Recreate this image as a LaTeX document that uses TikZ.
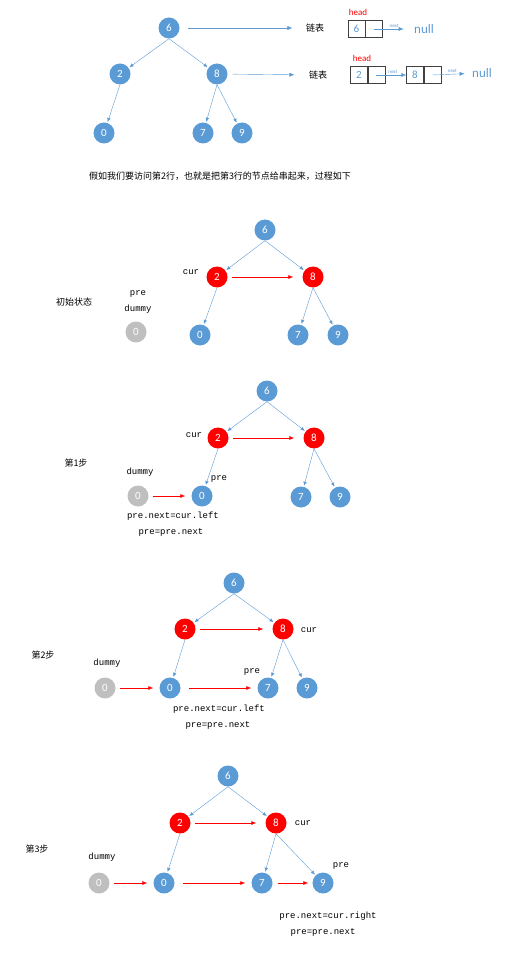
\documentclass[tikz,border=0pt]{standalone}
\usepackage{fontspec}
\setmainfont{Carlito}
\setmonofont{Liberation Mono}
\newfontfamily\cjk{Noto Sans CJK SC}
\usetikzlibrary{positioning, arrows.meta}
\definecolor{tBlue}{HTML}{5B9BD5}
\definecolor{tRed}{HTML}{FF0000}
\definecolor{tGray}{HTML}{BFBFBF}
\definecolor{tBox}{HTML}{404040}

\begin{document}
\begin{tikzpicture}[
  x=1pt, y=-1pt,
  every node/.style={font=\fontsize{9}{10}\selectfont},
  tnode/.style={circle, fill=tBlue, text=white, minimum size=21pt, inner sep=0pt,
                font=\fontsize{11}{12}\selectfont},
  rnode/.style={tnode, fill=tRed},
  gnode/.style={tnode, fill=tGray},
  tedge/.style={-{Latex[length=4pt,width=3.5pt]}, tBlue, thin, shorten >=1pt},
  redge/.style={-{Latex[length=5pt,width=4pt]}, tRed, semithick,
                shorten <=4pt, shorten >=9pt},
  ledge/.style={-{Latex[length=5pt,width=4pt]}, tBlue, thin},
  lcell/.style={draw=tBox, minimum width=17pt, minimum height=17pt, inner sep=0pt,
                text=tBlue, font=\fontsize{11}{12}\selectfont},
  code/.style={font=\ttfamily\fontsize{9}{10}\selectfont},
  cn/.style={font=\cjk\fontsize{9}{10}\selectfont},
  nxt/.style={text=tBlue, font=\fontsize{5}{6}\selectfont, inner sep=1pt},
]
  \useasboundingbox (0,0) rectangle (531,957);

  % Top tree and its lists
  \node[tnode] (t6) at (169,28) {6};
  \node[tnode] (t2) at (120,74) {2};
  \node[tnode] (t8) at (217,74) {8};
  \node[tnode] (t0) at (104,133) {0};
  \node[tnode] (t7) at (203,133) {7};
  \node[tnode] (t9) at (242,133) {9};
  \draw[tedge] (t6.south) -- (t2);
  \draw[tedge] (t6.south) -- (t8);
  \draw[tedge] (t2.south) -- (t0);
  \draw[tedge] (t8.south) -- (t7);
  \draw[tedge] (t8.south) -- (t9);

  \node[cn] (l1) at (315,28) {链表};
  \node[cn] (l2) at (318,75) {链表};
  \draw[ledge, shorten <=8pt, shorten >=10pt] (t6) -- (l1);
  \draw[ledge, shorten <=5pt, shorten >=11pt] (t8) -- (l2);

  \node[text=tRed] (hd1) at (358,12) {head};
  \node[lcell] (h1a) at (356.5,29) {6};
  \node[lcell, right=0pt of h1a] (h1b) {};
  \node[text=tBlue, font=\fontsize{13}{14}\selectfont] (n1) at (424,29) {null};
  \draw[ledge, shorten >=7pt] (h1b.center) -- (n1) node[nxt, pos=0.55, above] {next};

  \node[text=tRed] (hd2) at (362,58) {head};
  \node[lcell] (h2a) at (359,75) {2};
  \node[lcell, right=0pt of h2a] (h2b) {};
  \node[lcell] (k2a) at (415,75) {8};
  \node[lcell, right=0pt of k2a] (k2b) {};
  \node[text=tBlue, font=\fontsize{13}{14}\selectfont] (n2) at (482,73) {null};
  \draw[ledge] (h2b.center) -- (k2a.west) node[nxt, pos=0.55, above] {next};
  \draw[ledge, shorten >=4pt] (k2b.center) -- (n2) node[nxt, pos=0.55, above] {next};

  \node[cn] (cap) at (220,176) {假如我们要访问第2行，也就是把第3行的节点给串起来，过程如下};

  % Initial state
  \node[tnode] (a6) at (265,230) {6};
  \node[rnode] (a2) at (217,277) {2};
  \node[rnode] (a8) at (313,277) {8};
  \node[tnode] (a0) at (200,335) {0};
  \node[tnode] (a7) at (298,335) {7};
  \node[tnode] (a9) at (338,335) {9};
  \node[gnode] (ag) at (136,332) {0};
  \draw[tedge] (a6.south) -- (a2);
  \draw[tedge] (a6.south) -- (a8);
  \draw[tedge] (a2.south) -- (a0);
  \draw[tedge] (a8.south) -- (a7);
  \draw[tedge] (a8.south) -- (a9);
  \draw[redge] (a2) -- (a8);
  \node[code] (acur) at (191,272) {cur};
  \node[code] (apre) at (138,294) {pre};
  \node[code] (admy) at (138,309) {dummy};
  \node[cn] (ast) at (74,302) {初始状态};

  % Step 1
  \node[tnode] (b6) at (267,391) {6};
  \node[rnode] (b2) at (218,438) {2};
  \node[rnode] (b8) at (314,438) {8};
  \node[tnode] (b0) at (202,496) {0};
  \node[tnode] (b7) at (301,497) {7};
  \node[tnode] (b9) at (340,497) {9};
  \node[gnode] (bg) at (138,496) {0};
  \draw[tedge] (b6.south) -- (b2);
  \draw[tedge] (b6.south) -- (b8);
  \draw[tedge] (b2.south) -- (b0);
  \draw[tedge] (b8.south) -- (b7);
  \draw[tedge] (b8.south) -- (b9);
  \draw[redge] (b2) -- (b8);
  \draw[redge, shorten >=6pt] (bg) -- (b0);
  \node[code] (bcur) at (194,435) {cur};
  \node[code] (bpre) at (219,479) {pre};
  \node[code] (bdmy) at (140,472) {dummy};
  \node[cn] (bst) at (76,463) {第1步};
  \node[code] (bc1) at (173,516) {pre.next=cur.left};
  \node[code] (bc2) at (171,532) {pre=pre.next};

  % Step 2
  \node[tnode] (c6) at (234,583) {6};
  \node[rnode] (c2) at (185,629) {2};
  \node[rnode] (c8) at (283,629) {8};
  \node[tnode] (c0) at (170,688) {0};
  \node[tnode] (c7) at (268,688) {7};
  \node[tnode] (c9) at (307,688) {9};
  \node[gnode] (cg) at (105,688) {0};
  \draw[tedge] (c6.south) -- (c2);
  \draw[tedge] (c6.south) -- (c8);
  \draw[tedge] (c2.south) -- (c0);
  \draw[tedge] (c8.south) -- (c7);
  \draw[tedge] (c8.south) -- (c9);
  \draw[redge] (c2) -- (c8);
  \draw[redge, shorten >=6pt] (cg) -- (c0);
  \draw[redge, shorten <=8pt, shorten >=6pt] (c0) -- (c7);
  \node[code] (ccur) at (309,630) {cur};
  \node[code] (cpre) at (252,672) {pre};
  \node[code] (cdmy) at (107,663) {dummy};
  \node[cn] (cst) at (43,655) {第2步};
  \node[code] (cc1) at (219,709) {pre.next=cur.left};
  \node[code] (cc2) at (218,725) {pre=pre.next};

  % Step 3
  \node[tnode] (d6) at (228,776) {6};
  \node[rnode] (d2) at (180,823) {2};
  \node[rnode] (d8) at (276,823) {8};
  \node[tnode] (d0) at (164,883) {0};
  \node[tnode] (d7) at (262,883) {7};
  \node[tnode] (d9) at (323,883) {9};
  \node[gnode] (dg) at (99,883) {0};
  \draw[tedge] (d6.south) -- (d2);
  \draw[tedge] (d6.south) -- (d8);
  \draw[tedge] (d2.south) -- (d0);
  \draw[tedge] (d8.south) -- (d7);
  \draw[tedge] (d8.south) -- (d9);
  \draw[redge] (d2) -- (d8);
  \draw[redge, shorten >=6pt] (dg) -- (d0);
  \draw[redge, shorten <=8pt, shorten >=6pt] (d0) -- (d7);
  \draw[redge, shorten <=5pt, shorten >=4pt] (d7) -- (d9);
  \node[code] (dcur) at (303,823) {cur};
  \node[code] (dpre) at (341,866) {pre};
  \node[code] (ddmy) at (102,857) {dummy};
  \node[cn] (dst) at (37,849) {第3步};
  \node[code] (dc1) at (328,916) {pre.next=cur.right};
  \node[code] (dc2) at (323,932) {pre=pre.next};
\end{tikzpicture}
\end{document}
